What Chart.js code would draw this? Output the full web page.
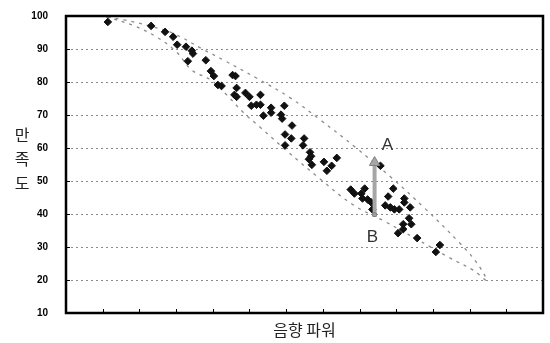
<!DOCTYPE html>
<html>
<head>
<meta charset="utf-8">
<script src="https://cdn.jsdelivr.net/npm/chart.js@4/dist/chart.umd.min.js"></script>
<style>
  html, body { margin: 0; padding: 0; background: #fff; }
  #wrap { width: 550px; height: 343px; position: relative; }
</style>
</head>
<body>
<div id="wrap"><canvas id="grafico"></canvas></div>
<script>
// 음향 파워 vs 만족도 산점도

const yTicks = [10, 20, 30, 40, 50, 60, 70, 80, 90, 100];
const xTicks = [1, 2, 3, 4, 5, 6, 7, 8, 9, 10, 11, 12];

// 측정점 (음향 파워, 만족도)
const powerX = [1.14, 2.32, 2.70, 2.92, 3.03, 3.27, 3.43, 3.46, 3.32, 3.81,
                3.95, 4.03, 4.14, 4.24, 4.54, 4.62, 4.65, 4.59, 4.65, 4.89,
                5.00, 5.30, 5.05, 5.19, 5.30, 5.38, 5.59, 5.59, 5.95, 5.86,
                5.89, 6.16, 5.97, 6.14, 5.97, 6.49, 6.46, 6.65, 6.68, 6.62,
                6.70, 7.03, 7.38, 7.24, 7.11, 8.57, 7.76, 7.86, 8.05, 8.14,
                8.08, 8.22, 8.32, 8.35, 8.70, 8.84, 8.95, 9.08, 8.92, 9.22,
                9.22, 9.38, 9.35, 9.19, 9.41, 9.19, 9.05, 9.57, 10.19, 10.08,
                8.78];
const satisfaction = [98.2, 97.0, 95.2, 93.7, 91.3, 90.7, 89.5, 88.6, 86.3, 86.6,
                      83.3, 81.8, 79.1, 78.8, 82.1, 81.8, 78.2, 76.1, 75.5, 76.7,
                      75.5, 76.1, 72.8, 73.1, 73.1, 69.8, 72.2, 70.7, 72.8, 70.1,
                      68.9, 66.8, 64.1, 62.9, 60.8, 62.9, 60.8, 58.7, 57.5, 56.6,
                      54.9, 55.8, 57.0, 54.6, 53.1, 54.6, 47.4, 46.2, 46.2, 47.7,
                      44.7, 44.4, 43.5, 41.4, 42.6, 42.0, 41.4, 41.4, 47.7, 44.7,
                      43.5, 42.0, 38.7, 36.9, 36.9, 35.4, 34.2, 32.7, 30.6, 28.5,
                      45.3];

// 점선 타원 윤곽 (그림에서 읽은 점)
const ellipseX = [0.92, 1.59, 2.27, 2.95, 3.70, 4.30, 5.19, 6.11, 6.92, 7.89,
                  8.84, 9.78, 10.73, 11.19, 11.46, 11.11, 10.46, 9.51, 8.68, 7.81,
                  6.95, 6.00, 5.30, 4.84, 4.38, 3.95, 3.43, 3.00, 2.46, 1.86,
                  1.19, 0.92];
const ellipseY = [100.0, 98.8, 97.0, 94.6, 90.1, 86.6, 81.2, 75.2, 68.6, 60.2,
                  51.3, 41.7, 31.2, 25.3, 19.9, 22.9, 26.7, 32.7, 37.8, 42.9,
                  50.4, 59.3, 66.2, 70.7, 76.1, 80.6, 83.6, 89.2, 93.7, 97.0,
                  99.4, 100.0];

// A-B 화살표
const arrowX = [8.41, 8.41];
const arrowY = [55.6, 39.8];

// 라벨
const labelText = ['A', 'B'];
const labelX = [8.76, 8.35];
const labelY = [60.8, 33.0];

const toXY = (xs, ys) => xs.map((x, i) => ({ x: x, y: ys[i] }));

const decoracao = {
    id: 'decoracao',
    beforeDatasetsDraw(chart) {
        // 점선 격자
        const ctx = chart.ctx;
        const area = chart.chartArea;
        const ys = chart.scales.y;
        ctx.save();
        ctx.strokeStyle = '#8a8a8a';
        ctx.lineWidth = 1;
        ctx.setLineDash([2, 3]);
        yTicks.slice(1, -1).forEach(v => {
            const py = Math.round(ys.getPixelForValue(v)) + 0.5;
            ctx.beginPath();
            ctx.moveTo(area.left, py);
            ctx.lineTo(area.right, py);
            ctx.stroke();
        });
        ctx.restore();
    },
    afterDatasetsDraw(chart) {
        const ctx = chart.ctx;
        const area = chart.chartArea;
        const xs = chart.scales.x;
        const ys = chart.scales.y;
        ctx.save();

        // 안쪽 눈금
        ctx.strokeStyle = '#000';
        ctx.lineWidth = 1;
        xTicks.forEach(v => {
            const px = Math.round(xs.getPixelForValue(v)) + 0.5;
            ctx.beginPath();
            ctx.moveTo(px, area.bottom);
            ctx.lineTo(px, area.bottom - 4);
            ctx.stroke();
        });
        yTicks.slice(1, -1).forEach(v => {
            const py = Math.round(ys.getPixelForValue(v)) + 0.5;
            ctx.beginPath();
            ctx.moveTo(area.left, py);
            ctx.lineTo(area.left + 4, py);
            ctx.stroke();
        });

        // 테두리
        ctx.lineWidth = 2.5;
        ctx.strokeRect(area.left, area.top, area.right - area.left, area.bottom - area.top);

        // A, B 라벨
        ctx.fillStyle = '#333';
        ctx.font = '17px "Liberation Sans", Arial, sans-serif';
        ctx.textAlign = 'center';
        ctx.textBaseline = 'middle';
        labelText.forEach((t, i) => {
            ctx.fillText(t, xs.getPixelForValue(labelX[i]), ys.getPixelForValue(labelY[i]));
        });

        // 축 제목
        ctx.fillStyle = '#222';
        ctx.font = '16px "Noto Sans CJK KR", sans-serif';
        ctx.fillText('음향 파워', (area.left + area.right) / 2, 330);
        ['만', '족', '도'].forEach((c, i) => {
            ctx.fillText(c, 22, 135 + i * 24);
        });
        ctx.restore();
    }
};

const ctx = document.getElementById('grafico').getContext('2d');
const grafico = new Chart(ctx, {
    type: 'scatter',
    data: {
        datasets: [{
            label: 'arrow',
            data: toXY(arrowX, arrowY),
            showLine: true,
            borderColor: '#a6a6a6',
            borderWidth: 4,
            pointStyle: ['triangle', 'rect'],
            pointRadius: [6, 2.5],
            pointBackgroundColor: '#a6a6a6',
            pointBorderColor: '#808080',
            pointBorderWidth: 1
        }, {
            label: '만족도',
            data: toXY(powerX, satisfaction),
            pointStyle: 'rectRot',
            pointRadius: 3.8,
            pointBackgroundColor: '#111',
            pointBorderColor: '#111',
            pointBorderWidth: 1
        }, {
            label: 'ellipse',
            data: toXY(ellipseX, ellipseY),
            showLine: true,
            tension: 0.4,
            pointRadius: 0,
            borderColor: '#8c8c8c',
            borderWidth: 1.3,
            borderDash: [3, 5],
            clip: false
        }]
    },
    options: {
        responsive: true,
        maintainAspectRatio: false,
        animation: false,
        layout: {
            padding: { top: 12, right: 3, left: 0, bottom: 0 }
        },
        plugins: {
            legend: { display: false },
            tooltip: { enabled: false }
        },
        scales: {
            x: {
                min: 0,
                max: 13,
                ticks: { display: false, stepSize: 1 },
                grid: { display: false },
                border: { display: false },
                afterFit: function(scale) { scale.height = 30; }
            },
            y: {
                min: 10,
                max: 100,
                afterBuildTicks: function(scale) {
                    scale.ticks = yTicks.map(v => ({ value: v }));
                },
                ticks: {
                    padding: 10,
                    color: '#000',
                    font: { family: '"Liberation Sans", Arial, sans-serif', size: 10, weight: 'bold' }
                },
                grid: { display: false },
                border: { display: false },
                afterFit: function(scale) { scale.width = 66; }
            }
        }
    },
    plugins: [decoracao]
});
</script>
</body>
</html>
